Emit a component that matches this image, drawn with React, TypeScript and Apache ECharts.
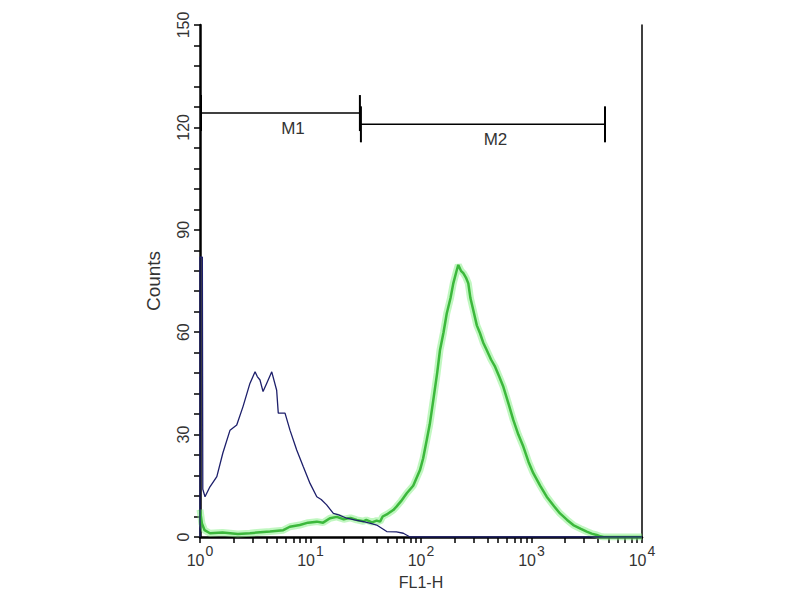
import React, { useEffect, useRef } from "react";
import * as echarts from "echarts";

// Fluorescence (FL1-H) vs counts
const blueCounts: [number, number][] = [
  [1, 0], [1, 82], [1.05, 82], [1.06, 14], [1.11, 11.8], [1.23, 14.7], [1.42, 17.7],
  [1.61, 24.6], [1.87, 31.3], [2.15, 32.8], [2.45, 38.2], [2.83, 45], [3.15, 48.4],
  [3.3, 47], [3.49, 46], [3.72, 42.6], [4.01, 45], [4.46, 48.4], [4.94, 43],
  [5.11, 36.3], [5.88, 36.3], [6.52, 31.3], [7.5, 25.5], [8.61, 20.6], [9.9, 15.7],
  [11.4, 11.8], [12.5, 11], [14, 9.4], [16.1, 6.9], [18, 6.5], [21.3, 5.5], [25, 5],
  [30.1, 4.5], [35, 4], [39.7, 3.5], [49, 1.6], [60, 1.5], [69.2, 1.1], [79.6, 0],
  [10000, 0],
];

const greenCounts: [number, number][] = [
  [1, 8], [1.04, 4], [1.1, 2], [1.23, 1.1], [1.6, 1.3], [2.2, 0.9], [2.83, 1.1],
  [3.5, 1.4], [4.3, 1.6], [5.67, 2], [6.5, 3], [8, 3.5], [9.5, 4.2], [11.4, 4.5],
  [13, 4.2], [15, 5.5], [17.3, 5.9], [20, 5.2], [23, 5.6], [26.2, 5], [30, 4.6],
  [32, 5], [36, 4.3], [39.7, 4.8], [42.6, 4.5], [45, 6], [50, 6.8], [56.1, 7.9],
  [60, 8.9], [66, 10.5], [74.3, 12.8], [85, 15], [97.9, 19.6], [104.5, 23],
  [112.7, 28.4], [120, 33], [129.2, 40.1], [140, 48], [148.6, 54.8], [160, 60],
  [171, 65.5], [185, 70], [196, 74.3], [210, 78], [217.5, 79.7], [230, 78],
  [241.5, 77.3], [255, 76], [268, 74.3], [280, 70], [297, 66.5], [320, 62],
  [342, 59.7], [365, 57], [393, 54.8], [430, 52], [468, 49.9], [510, 47], [556, 44],
  [620, 39], [684, 34.3], [760, 30], [843, 26.5], [940, 22], [1038, 18.7],
  [1200, 15], [1372, 11.8], [1600, 9], [1811, 6.9], [2100, 5], [2389, 3.5],
  [2800, 2.4], [3160, 1.6], [3500, 1], [3890, 0.6], [4200, 0.2], [4500, 0],
  [10000, 0],
];

// Gates: [from, to, count level]
const gateNames = ["M1", "M2"];
const gateRanges: [number, number, number][] = [
  [1, 28, 124.2],
  [28, 4624, 120.9],
];

const xTickValues: number[] = [
  1, 2, 3, 4, 5, 6, 7, 8, 9,
  10, 20, 30, 40, 50, 60, 70, 80, 90,
  100, 200, 300, 400, 500, 600, 700, 800, 900,
  1000, 2000, 3000, 4000, 5000, 6000, 7000, 8000, 9000, 10000,
];
const xLabelValues: number[] = [1, 10, 100, 1000, 10000];

const yMin = 0;
const yMax = 150;
const yInterval = 30;

const FONT = "'Liberation Sans', Arial, sans-serif";

export default function App() {
  const ref = useRef<HTMLDivElement>(null);

  useEffect(() => {
    if (!ref.current) return;
    const chart = echarts.init(ref.current, undefined, { renderer: "svg" });

    const option: any = {
      animation: false,
      backgroundColor: "#ffffff",
      grid: { left: 200, right: 158, top: 25, bottom: 63 },
      xAxis: {
        type: "log",
        logBase: 10,
        min: 1,
        max: 10000,
        name: "FL1-H",
        nameLocation: "middle",
        nameGap: 37,
        nameTextStyle: { color: "#333", fontSize: 16, fontFamily: FONT },
        axisLine: { show: true, onZero: false, lineStyle: { color: "#000", width: 2.5 } },
        axisTick: {
          show: true,
          length: 6,
          customValues: xTickValues,
          lineStyle: { color: "#000", width: 1.5 },
        },
        axisLabel: {
          show: true,
          customValues: xLabelValues,
          margin: 7,
          formatter: (v: number) => `{b|10}{s|${Math.round(Math.log10(v))}}`,
          rich: {
            b: { fontSize: 16, color: "#333", fontFamily: FONT, lineHeight: 24, verticalAlign: "bottom" },
            s: { fontSize: 14, color: "#333", fontFamily: FONT, lineHeight: 24, verticalAlign: "top", padding: [0, 0, 0, 1] },
          },
        },
        splitLine: { show: false },
      },
      yAxis: [
        {
          type: "value",
          min: yMin,
          max: yMax,
          interval: yInterval,
          name: "Counts",
          nameLocation: "middle",
          nameGap: 37,
          nameRotate: 90,
          nameTextStyle: { color: "#333", fontSize: 19, fontFamily: FONT },
          axisLine: { show: true, lineStyle: { color: "#000", width: 2.5 } },
          axisTick: { show: true, length: 6, lineStyle: { color: "#000", width: 1.5 } },
          minorTick: { show: true, splitNumber: 5, length: 6, lineStyle: { color: "#000", width: 1.5 } },
          axisLabel: { rotate: 90, margin: 9, color: "#333", fontSize: 16, fontFamily: FONT },
          splitLine: { show: false },
          minorSplitLine: { show: false },
        },
        {
          type: "value",
          position: "right",
          min: yMin,
          max: yMax,
          interval: yInterval,
          axisLine: { show: true, lineStyle: { color: "#000", width: 1.5 } },
          axisTick: { show: false },
          axisLabel: { show: false },
          splitLine: { show: false },
        },
      ],
      series: [
        {
          type: "line",
          data: greenCounts,
          symbol: "none",
          lineStyle: { color: "rgba(130,240,130,0.5)", width: 7 },
          z: 2,
          silent: true,
        },
        {
          type: "line",
          data: greenCounts,
          symbol: "none",
          lineStyle: { color: "#3cb83c", width: 2.5 },
          z: 3,
          silent: true,
        },
        {
          type: "line",
          data: blueCounts,
          symbol: "none",
          lineStyle: { color: "#1d1f6b", width: 1.3 },
          z: 4,
          silent: true,
        },
        {
          type: "custom",
          data: gateRanges,
          encode: { x: [0, 1], y: 2 },
          z: 5,
          silent: true,
          renderItem: (params: any, api: any) => {
            const p0 = api.coord([api.value(0), api.value(2)]);
            const p1 = api.coord([api.value(1), api.value(2)]);
            const h = 18;
            const st = { stroke: "#000", lineWidth: 1.5 };
            return {
              type: "group",
              children: [
                { type: "line", shape: { x1: p0[0], y1: p0[1], x2: p1[0], y2: p1[1] }, style: st },
                { type: "line", shape: { x1: p0[0] + 1, y1: p0[1] - h, x2: p0[0] + 1, y2: p0[1] + h }, style: { stroke: "#000", lineWidth: 2 } },
                { type: "line", shape: { x1: p1[0], y1: p1[1] - h, x2: p1[0], y2: p1[1] + h }, style: { stroke: "#000", lineWidth: 2 } },
                {
                  type: "text",
                  x: (p0[0] + p1[0]) / 2 + 13,
                  y: p0[1] + 15,
                  style: {
                    text: gateNames[params.dataIndex],
                    fill: "#333",
                    fontSize: 17,
                    fontFamily: FONT,
                    align: "center",
                    verticalAlign: "middle",
                  },
                },
              ],
            };
          },
        },
      ],
    };

    chart.setOption(option);
    return () => chart.dispose();
  }, []);

  return (
    <div
      ref={ref}
      style={{ position: "fixed", left: 0, top: 0, width: 800, height: 600, background: "#fff" }}
    />
  );
}
